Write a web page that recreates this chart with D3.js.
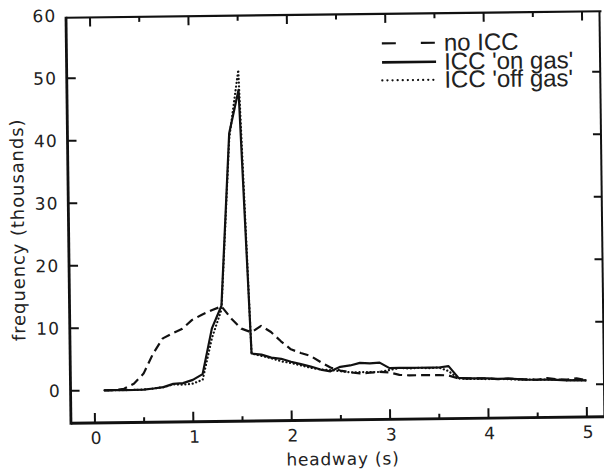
<!DOCTYPE html>
<html><head><meta charset="utf-8">
<script src="https://cdn.jsdelivr.net/npm/d3@7"></script>
<style>html,body{margin:0;padding:0;background:#fff;}svg{display:block;}</style>
</head><body>
<script>
const headway = [0.1,0.2,0.3,0.4,0.5,0.6,0.7,0.8,0.9,1.0,1.1,1.2,1.3,1.4,1.5,1.6,1.7,1.8,1.9,2.0,2.1,2.2,2.3,2.4,2.5,2.6,2.7,2.8,2.9,3.0,3.1,3.2,3.3,3.4,3.5,3.6,3.7,3.8,3.9,4.0,4.1,4.2,4.3,4.4,4.5,4.6,4.7,4.8,4.9,5.0];
const noICC = [0,0,0.2,1.0,2.6,5.8,8.2,9.0,9.7,11.1,11.9,12.6,13.2,11.2,9.6,9.0,10.0,9.0,7.5,6.2,5.6,5.1,4.1,3.2,2.7,2.4,2.2,2.3,2.4,2.3,1.9,1.8,1.8,1.8,1.8,1.7,1.2,1.2,1.2,1.15,1.0,1.1,1.0,0.9,0.85,1.1,0.9,0.8,1.0,0.7];
const onGas = [0,0,0,0,0.05,0.2,0.4,0.9,1.0,1.5,2.4,9.7,13.3,40.9,47.8,5.6,5.4,4.9,4.7,4.2,3.8,3.4,2.9,2.6,3.3,3.5,3.9,3.8,3.9,3.0,3.0,3.0,3.0,3.0,3.0,3.2,1.3,1.2,1.2,1.15,1.05,1.1,1.0,0.9,0.85,0.85,0.8,0.7,0.7,0.65];
const offGas = [0,0,0,0,0.05,0.2,0.4,0.8,0.75,0.9,1.5,8.2,12.7,40.1,51.0,5.6,5.2,4.8,4.3,4.0,3.6,3.2,2.9,2.8,2.6,2.4,2.4,2.4,2.4,2.7,3.0,2.9,3.0,2.9,3.0,2.4,1.2,1.1,1.1,1.05,1.05,1.0,0.9,0.9,0.85,0.85,0.85,0.7,0.7,0.65];
const seriesNames = ["no ICC", "ICC 'on gas'", "ICC 'off gas'"];
const xTicks = [0,1,2,3,4,5];
const xMinorTicks = [0.5,1.5,2.5,3.5,4.5];
const yTicks = [0,10,20,30,40,50,60];

const W = 604, H = 473;
const svg = d3.select("body").append("svg").attr("width", W).attr("height", H);
// the scanned original is tilted slightly
const root = svg.append("g").attr("transform","rotate(-0.7,335,220)");
const L = 68.5, R = 602, T = 14.5, B = 420;
const x = d3.scaleLinear().domain([0,5]).range([92.5,584.5]);
const y = d3.scaleLinear().domain([0,60]).range([387.5,12.5]);
const ink = "#111", txt = "#222";

// frame
const g = root.append("g");
g.append("line").attr("x1",L).attr("x2",R+2).attr("y1",T).attr("y2",T).attr("stroke",ink).attr("stroke-width",2.2);
g.append("line").attr("x1",L).attr("x2",R+2).attr("y1",B).attr("y2",B).attr("stroke",ink).attr("stroke-width",2.8);
g.append("line").attr("x1",L).attr("x2",L).attr("y1",T-1).attr("y2",B+1.4).attr("stroke",ink).attr("stroke-width",2.8);
g.append("line").attr("x1",R).attr("x2",R).attr("y1",T).attr("y2",B).attr("stroke",ink).attr("stroke-width",2);

// ticks
xTicks.forEach(v=>{
  g.append("line").attr("x1",x(v)).attr("x2",x(v)).attr("y1",B).attr("y2",B-10).attr("stroke",ink).attr("stroke-width",2);
  g.append("line").attr("x1",x(v)).attr("x2",x(v)).attr("y1",T).attr("y2",T+9).attr("stroke",ink).attr("stroke-width",2);
});
xMinorTicks.forEach(v=>{
  g.append("line").attr("x1",x(v)).attr("x2",x(v)).attr("y1",B).attr("y2",B-5).attr("stroke",ink).attr("stroke-width",2);
  g.append("line").attr("x1",x(v)).attr("x2",x(v)).attr("y1",T).attr("y2",T+5).attr("stroke",ink).attr("stroke-width",2);
});
yTicks.filter(v=>v<60).forEach(v=>{
  g.append("line").attr("x1",L).attr("x2",L+9).attr("y1",y(v)).attr("y2",y(v)).attr("stroke",ink).attr("stroke-width",2);
  g.append("line").attr("x1",R).attr("x2",R-8).attr("y1",y(v)).attr("y2",y(v)).attr("stroke",ink).attr("stroke-width",2);
});

// tick labels
const tf = "'DejaVu Sans', sans-serif";
xTicks.forEach(v=>{
  root.append("text").attr("x",x(v)+1).attr("y",441).attr("text-anchor","middle")
    .attr("font-family",tf).attr("font-size",17).attr("fill",txt).text(d3.format("d")(v));
});
yTicks.forEach(v=>{
  root.append("text").attr("x",59).attr("y",y(v)+6).attr("text-anchor","end")
    .attr("font-family",tf).attr("font-size",17).attr("letter-spacing",1.2).attr("fill",txt).text(d3.format("d")(v));
});
root.append("text").attr("x",340).attr("y",465).attr("text-anchor","middle")
  .attr("font-family",tf).attr("font-size",17).attr("letter-spacing",0.8).attr("fill",txt).text("headway (s)");
root.append("text").attr("transform","translate(24,226) rotate(-90)").attr("text-anchor","middle")
  .attr("font-family",tf).attr("font-size",18).attr("letter-spacing",0.9).attr("fill",txt).text("frequency (thousands)");

// series
const line = d3.line().x(d=>x(d[0])).y(d=>y(d[1]));
const styles = [
  {data: noICC, dash: "9,5", w: 2.2, cap: "butt"},
  {data: onGas, dash: null, w: 2.2, cap: "butt"},
  {data: offGas, dash: "0.1,3.6", w: 2.2, cap: "round"}
];
styles.forEach(s=>{
  const p = root.append("path").datum(headway.map((h,i)=>[h,s.data[i]]))
    .attr("d", line).attr("fill","none").attr("stroke",ink).attr("stroke-width",s.w)
    .attr("stroke-linecap",s.cap).attr("stroke-linejoin","round");
  if (s.dash) p.attr("stroke-dasharray", s.dash);
});

// legend
const lg = root.append("g");
const legDash = ["14,25", null, "0.1,5"];
const legY = [44, 63, 81];
seriesNames.forEach((n,i)=>{
  const l = lg.append("line").attr("x1",384).attr("x2",438).attr("y1",legY[i]).attr("y2",legY[i])
    .attr("stroke",ink).attr("stroke-width", i===1?2.6:2.2).attr("stroke-linecap", i===2?"round":"butt");
  if (legDash[i]) l.attr("stroke-dasharray", legDash[i]);
  lg.append("text").attr("x",446).attr("y",legY[i]+8).attr("font-family","'Liberation Sans', Arial, sans-serif")
    .attr("font-size",24).attr("fill",txt).text(n);
});
</script>
</body></html>
